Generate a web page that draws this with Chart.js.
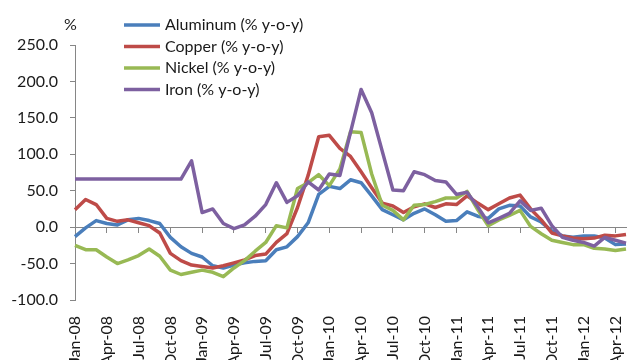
<!DOCTYPE html>
<html>
<head>
<meta charset="utf-8">
<script src="https://cdn.jsdelivr.net/npm/chart.js@4.4.1/dist/chart.umd.min.js"></script>
<style>
  html, body { margin: 0; padding: 0; background: #ffffff; }
  #wrap { width: 636px; height: 360px; position: relative; }
</style>
</head>
<body>
<div id="wrap"><canvas id="c" width="636" height="360"></canvas></div>
<script>
// Monthly categories, Jan-08 .. May-12
const months = [
  'Jan-08','Feb-08','Mar-08','Apr-08','May-08','Jun-08','Jul-08','Aug-08','Sep-08','Oct-08','Nov-08','Dec-08',
  'Jan-09','Feb-09','Mar-09','Apr-09','May-09','Jun-09','Jul-09','Aug-09','Sep-09','Oct-09','Nov-09','Dec-09',
  'Jan-10','Feb-10','Mar-10','Apr-10','May-10','Jun-10','Jul-10','Aug-10','Sep-10','Oct-10','Nov-10','Dec-10',
  'Jan-11','Feb-11','Mar-11','Apr-11','May-11','Jun-11','Jul-11','Aug-11','Sep-11','Oct-11','Nov-11','Dec-11',
  'Jan-12','Feb-12','Mar-12','Apr-12','May-12'
];

// Year-on-year price change, %
const aluminum = [
  -13, -1, 9, 5, 3, 10, 12, 9, 5, -14, -27, -36,
  -41, -53, -56, -52, -49, -47, -46, -31, -27, -13, 6, 45,
  56, 53, 65, 61, 43, 24, 17, 10, 19, 25, 17, 8,
  9, 21, 15, 12, 25, 30, 29, 14, 7, -5, -12, -14,
  -12, -12, -15, -24, -23
];
const copper = [
  24, 38, 31, 12, 8, 10, 6, 2, -8, -36, -46, -52,
  -54, -56, -53, -49, -45, -39, -37, -21, -9, 27, 71, 124,
  126, 108, 97, 76, 54, 33, 29, 20, 28, 32, 27, 32,
  31, 43, 33, 24, 32, 40, 44, 25, 10, -8, -12, -15,
  -16, -15, -11, -12, -10
];
const nickel = [
  -25, -31, -31, -41, -50, -45, -39, -30, -40, -59, -65, -62,
  -59, -62, -68, -56, -46, -33, -21, 2, -1, 53, 61, 72,
  57, 80, 131, 130, 73, 30, 23, 10, 30, 31, 35, 40,
  40, 49, 24, 2, 10, 16, 23, 1, -9, -18, -21, -24,
  -24, -29, -30, -32, -30
];
const iron = [
  66, 66, 66, 66, 66, 66, 66, 66, 66, 66, 66, 91,
  20, 25, 5, -2, 3, 15, 31, 61, 34, 43, 62, 51,
  73, 71, 130, 189, 157, 104, 51, 50, 76, 72, 64, 62,
  45, 48, 28, 6, 12, 19, 36, 23, 26, 2, -14, -18,
  -21, -26, -14, -18, -22
];

const seriesNames = ['Aluminum (% y-o-y)', 'Copper (% y-o-y)', 'Nickel (% y-o-y)', 'Iron (% y-o-y)'];
const seriesColors = ['#4a7ebb', '#be4b48', '#98b954', '#7d60a0'];
const yTicks = { min: -100, max: 250, step: 50 };

const FONT = 'Lato, "Open Sans", sans-serif';
const AXIS_GREY = '#868686';
const TEXT = '#1a1a1a';

// Legend block and unit caption painted over the plot
const overlayText = {
  id: 'overlayText',
  afterDraw(chart) {
    const ctx = chart.ctx;
    ctx.save();
    ctx.font = '16px ' + FONT;
    ctx.textBaseline = 'middle';
    ctx.fillStyle = TEXT;
    ctx.textAlign = 'left';
    ctx.fillText('%', 64, 25);
    chart.data.datasets.forEach((ds, i) => {
      const y = 25 + i * 21.5;
      ctx.strokeStyle = ds.borderColor;
      ctx.lineWidth = 3.5;
      ctx.beginPath();
      ctx.moveTo(124, y);
      ctx.lineTo(160, y);
      ctx.stroke();
      ctx.fillStyle = TEXT;
      ctx.fillText(ds.label, 165, y);
    });
    ctx.restore();
  }
};

// Keep the category axes flush with the plot edges
function flushEdges(scale) {
  scale.paddingLeft = 0;
  scale.paddingRight = 0;
}

const values = [aluminum, copper, nickel, iron];
const datasets = values.map((v, i) => ({
  label: seriesNames[i],
  data: v,
  borderColor: seriesColors[i],
  backgroundColor: seriesColors[i],
  borderWidth: 3.5,
  pointRadius: 0,
  tension: 0,
  fill: false,
  order: 4 - i,
  borderJoinStyle: 'round'
}));

new Chart(document.getElementById('c'), {
  type: 'line',
  data: { labels: months, datasets },
  options: {
    responsive: false,
    animation: false,
    devicePixelRatio: 1,
    layout: { padding: { top: 45, right: 10, bottom: 0, left: 0 } },
    plugins: { legend: { display: false }, tooltip: { enabled: false } },
    scales: {
      x: {
        type: 'category',
        position: 'bottom',
        offset: false,
        grid: { display: false, drawTicks: false },
        border: { display: false },
        ticks: {
          autoSkip: false,
          maxRotation: 90,
          minRotation: 90,
          padding: 16,
          color: TEXT,
          font: { family: FONT, size: 16 },
          callback(value, index) { return index % 3 === 0 ? months[index] : ''; }
        },
        afterFit(scale) { scale.height = 60; flushEdges(scale); }
      },
      xZero: {
        type: 'category',
        labels: months,
        position: { y: 0 },
        offset: false,
        grid: {
          display: true,
          drawOnChartArea: false,
          drawTicks: true,
          tickLength: 5,
          tickColor: (c) => (c.index % 3 === 0 ? AXIS_GREY : 'rgba(0,0,0,0)')
        },
        border: { display: true, color: AXIS_GREY, width: 1 },
        ticks: { display: false },
        afterFit(scale) { flushEdges(scale); }
      },
      y: {
        position: 'left',
        min: yTicks.min,
        max: yTicks.max,
        grid: { display: true, drawOnChartArea: false, drawTicks: true, tickLength: 5, color: AXIS_GREY },
        border: { display: true, color: AXIS_GREY, width: 1 },
        ticks: {
          stepSize: yTicks.step,
          padding: 12,
          color: TEXT,
          font: { family: FONT, size: 16 },
          callback(v) { return Number(v).toFixed(1); }
        },
        afterFit(scale) { scale.width = 75; }
      }
    }
  },
  plugins: [overlayText]
});
</script>
</body>
</html>
